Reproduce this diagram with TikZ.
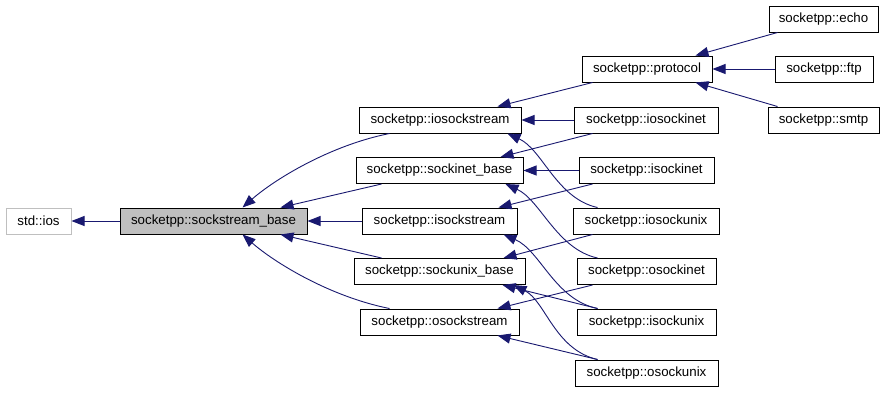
\documentclass[tikz,border=0pt]{standalone}
\usepackage{fontspec}
\setmainfont{Liberation Sans}
\usetikzlibrary{arrows.meta}
\definecolor{edgeblue}{RGB}{25,25,112}
\definecolor{basegray}{RGB}{191,191,191}
\begin{document}
\begin{tikzpicture}[x=1pt,y=-1pt,
  cls/.style={draw=black,line width=1pt,fill=white,inner sep=0pt,minimum height=26pt,
    font=\fontsize{13.3}{16}\selectfont},
  ext/.style={cls,draw=basegray},
  cur/.style={cls,fill=basegray},
  inh/.style={draw=edgeblue,line width=0.9pt,-{Triangle[length=13pt,width=10pt]}}]
\useasboundingbox[fill=white] (0,0) rectangle (885,392);

% base classes
\node[ext,minimum width=65pt] (ios) at (38.5,221) {std::ios};
\node[cur,minimum width=187pt] (base) at (213.5,221) {socketpp::sockstream\_base};

% middle column
\node[cls,minimum width=162pt] (iostr) at (440,120) {socketpp::iosockstream};
\node[cls,minimum width=167pt] (inetb) at (439.5,170.5) {socketpp::sockinet\_base};
\node[cls,minimum width=155pt] (istr) at (439.5,221) {socketpp::isockstream};
\node[cls,minimum width=171pt] (unixb) at (439.5,271.5) {socketpp::sockunix\_base};
\node[cls,minimum width=159pt] (ostr) at (439.5,322) {socketpp::osockstream};

% right column
\node[cls,minimum width=130pt] (proto) at (647,69) {socketpp::protocol};
\node[cls,minimum width=144pt] (iosinet) at (646,120) {socketpp::iosockinet};
\node[cls,minimum width=135pt] (isinet) at (646.5,170.5) {socketpp::isockinet};
\node[cls,minimum width=146pt] (iosunix) at (646,221) {socketpp::iosockunix};
\node[cls,minimum width=139pt] (osinet) at (646.5,271.5) {socketpp::osockinet};
\node[cls,minimum width=139pt] (isunix) at (646.5,322) {socketpp::isockunix};
\node[cls,minimum width=143pt] (osunix) at (646.5,373) {socketpp::osockunix};

% protocols
\node[cls,minimum width=109pt] (echo) at (823.5,19) {socketpp::echo};
\node[cls,minimum width=98pt] (ftp) at (824,69) {socketpp::ftp};
\node[cls,minimum width=111pt] (smtp) at (823.5,120) {socketpp::smtp};

% inheritance edges (arrow at the parent)
\draw[inh] (base.west) -- (ios.east);
\draw[inh] ([xshift=31pt]iostr.south west) .. controls +(-60,12) and +(32,-28) .. ([xshift=123pt]base.north west);
\draw[inh] ([xshift=26pt]inetb.south west) -- ([xshift=-27pt]base.north east);
\draw[inh] (istr.west) -- (base.east);
\draw[inh] ([xshift=28pt]unixb.north west) -- ([xshift=-27pt]base.south east);
\draw[inh] ([xshift=30pt]ostr.north west) .. controls +(-60,-12) and +(32,28) .. ([xshift=123pt]base.south west);

\draw[inh] ([xshift=11pt]proto.south west) -- ([xshift=-24pt]iostr.north east);
\draw[inh] (iosinet.west) -- (iostr.east);
\draw[inh] ([xshift=19pt]iosinet.south west) -- ([xshift=-23pt]inetb.north east);
\draw[inh] (isinet.west) -- (inetb.east);
\draw[inh] ([xshift=14pt]isinet.south west) -- ([xshift=-19pt]istr.north east);
\draw[inh] ([xshift=25pt]iosunix.north west) .. controls +(-41,-9) and +(35,16) .. ([xshift=-14pt]iostr.south east);
\draw[inh] ([xshift=20pt]iosunix.south west) -- ([xshift=-22pt]unixb.north east);
\draw[inh] ([xshift=21pt]osinet.north west) .. controls +(-41,-9) and +(35,16) .. ([xshift=-18pt]inetb.south east);
\draw[inh] ([xshift=16pt]osinet.south west) -- ([xshift=-22pt]ostr.north east);
\draw[inh] ([xshift=21pt]isunix.north west) .. controls +(-43,-9) and +(37,16) .. ([xshift=-14pt]istr.south east);
\draw[inh] ([xshift=21pt]isunix.north west) -- ([xshift=-23pt]unixb.south east);
\draw[inh] ([xshift=23pt]osunix.north west) .. controls +(-43,-10) and +(32,16) .. ([xshift=-12pt]unixb.south east);
\draw[inh] ([xshift=23pt]osunix.north west) -- ([xshift=-22pt]ostr.south east);

\draw[inh] ([xshift=9pt]echo.south west) -- ([xshift=-17pt]proto.north east);
\draw[inh] (ftp.west) -- (proto.east);
\draw[inh] ([xshift=10pt]smtp.north west) -- ([xshift=-17pt]proto.south east);
\end{tikzpicture}
\end{document}
